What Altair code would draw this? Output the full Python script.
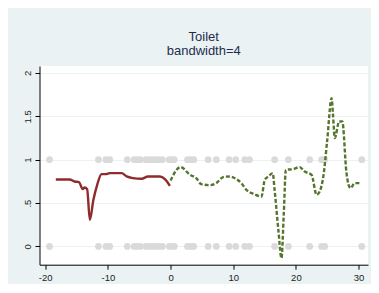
import altair as alt
import pandas as pd

# --- data ---
dot_x = [-19.3, -11.5, -10.3, -9.7, -6.9, -5.8, -5.3, -4.8, -3.9, -3.4, -2.9, -2.4,
         -1.9, -1.3, -0.2, 0.3, 0.6, 2.7, 3.2, 3.7, 6.0, 7.3, 9.35, 10.4, 11.85,
         12.6, 16.6, 18.8, 22.2, 24.1, 24.6, 30.5]
dot_levels = [0, 1]

left_x = [-18.3, -16.1, -15.3, -14.6, -14.0, -13.7, -13.3, -12.87, -12.3, -11.7,
          -11.0, -10.3, -9.7, -7.8, -7.0, -6.0, -4.6, -3.6, -1.7, -0.9, -0.1]
left_y = [0.772, 0.772, 0.749, 0.742, 0.661, 0.68, 0.66, 0.307, 0.538, 0.711,
          0.834, 0.834, 0.845, 0.845, 0.807, 0.788, 0.78, 0.807, 0.807, 0.776, 0.699]

right_x = [0.0, 1.6, 3.1, 4.1, 4.9, 6.27, 7.3, 8.4, 9.46, 10.5, 11.3, 12.1, 13.2,
           14.5, 15.04, 15.6, 16.3, 16.6, 17.2, 17.7, 18.07, 18.4, 19.55, 20.6,
           21.4, 22.5, 23.3, 23.8, 24.45, 25.0, 25.7, 25.9, 26.2, 26.9, 27.4,
           28.07, 28.7, 29.4, 30.2]
right_y = [0.76, 0.915, 0.826, 0.788, 0.718, 0.707, 0.73, 0.80, 0.807, 0.776, 0.73,
           0.653, 0.607, 0.576, 0.768, 0.807, 0.845, 0.653, 0.192, -0.134, 0.385,
           0.884, 0.891, 0.915, 0.864, 0.826, 0.596, 0.634, 0.845, 1.229, 1.71,
           1.537, 1.249, 1.44, 1.44, 0.845, 0.672, 0.73, 0.73]

x_ticks = [-20, -10, 0, 10, 20, 30]
x_tick_labels = ["-20", "-10", "0", "10", "20", "30"]
y_ticks = [0, 0.5, 1, 1.5, 2]
y_tick_labels = ["0", ".5", "1", "1.5", "2"]
title_lines = ["Toilet", "bandwidth=4"]

dots = pd.DataFrame([{"x": xv, "y": lv} for lv in dot_levels for xv in dot_x])
left = pd.DataFrame({"x": left_x, "y": left_y})
right = pd.DataFrame({"x": right_x, "y": right_y})


def make_expr(vals, labels):
    return " : ".join(
        [f"datum.value == {v} ? '{t}'" for v, t in zip(vals, labels)] + ["''"]
    )


FONT = "Liberation Sans"
xs = alt.Scale(domain=[-20.9, 31.5], nice=False, zero=False)
ys = alt.Scale(domain=[-0.21, 2.08], nice=False, zero=False)

x_axis = alt.Axis(values=x_ticks, grid=False, title=None, domainColor="black",
                  tickColor="black", tickSize=4.5, labelPadding=3,
                  labelExpr=make_expr(x_ticks, x_tick_labels),
                  labelFontSize=9.5, labelColor="#222222", labelFont=FONT,
                  domainWidth=1)
y_axis = alt.Axis(values=y_ticks, grid=True, gridColor="#EAF2F3", gridWidth=1.2,
                  title=None, domainColor="black", tickColor="black", tickSize=4.5,
                  labelAngle=270, labelPadding=3,
                  labelExpr=make_expr(y_ticks, y_tick_labels),
                  labelFontSize=9.5, labelColor="#222222", labelFont=FONT,
                  domainWidth=1)

points = alt.Chart(dots).mark_circle(size=45, color="#DADADA", opacity=1).encode(
    x=alt.X("x:Q", scale=xs, axis=x_axis),
    y=alt.Y("y:Q", scale=ys, axis=y_axis),
)
red = alt.Chart(left).mark_line(color="#8E2B2B", strokeWidth=2.4,
                                interpolate="monotone").encode(
    x=alt.X("x:Q", scale=xs), y=alt.Y("y:Q", scale=ys))
green = alt.Chart(right).mark_line(color="#55752F", strokeWidth=2.4,
                                   strokeDash=[4, 2],
                                   interpolate="monotone").encode(
    x=alt.X("x:Q", scale=xs), y=alt.Y("y:Q", scale=ys))

chart = alt.layer(points, red, green).properties(
    width=328.5, height=198.7,
    title=alt.TitleParams(text=title_lines, anchor="middle", fontSize=13,
                          font=FONT, fontWeight="normal", color="#1F2D4D",
                          lineHeight=13.6, offset=8),
    padding={"left": 31.5, "top": 58, "right": 3, "bottom": 19},
    autosize=alt.AutoSizeParams(type="none"),
    background="#EAF2F3",
).configure_view(fill="white", stroke=None)

chart.save("out.html", embed_options={"renderer": "svg", "actions": False})
